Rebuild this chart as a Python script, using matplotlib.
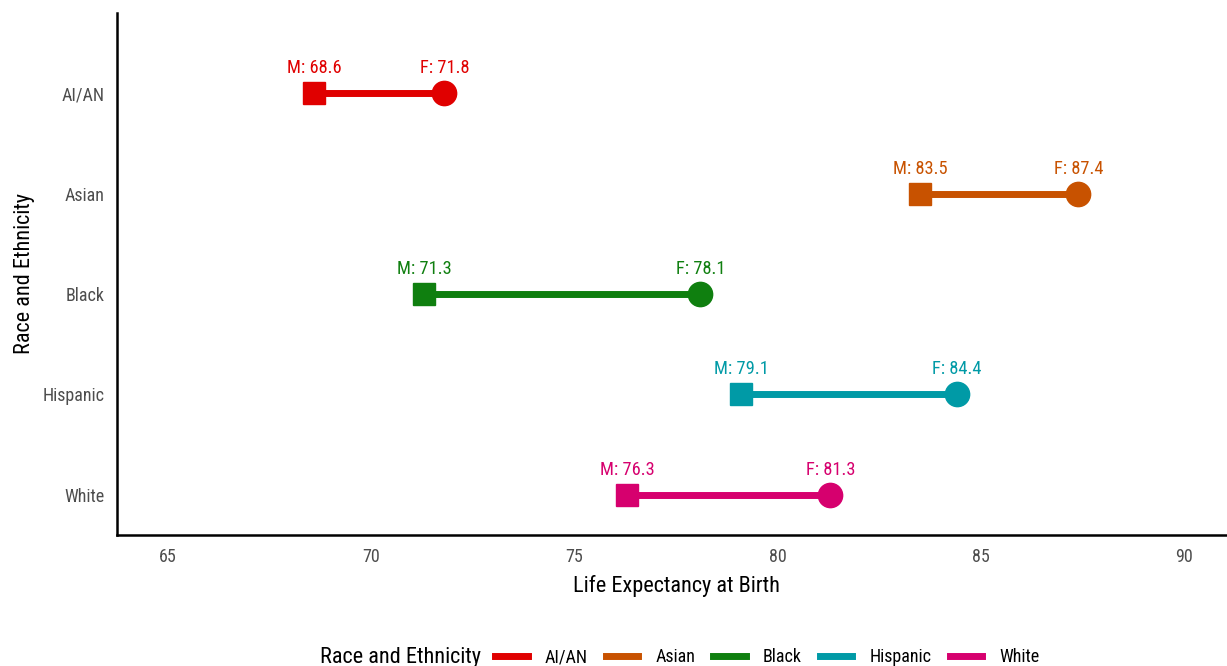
import matplotlib
matplotlib.use("Agg")
import matplotlib.pyplot as plt
from matplotlib.lines import Line2D

# Datos
groups = ["AI/AN", "Asian", "Black", "Hispanic", "White"]
male = [68.6, 83.5, 71.3, 79.1, 76.3]
female = [71.8, 87.4, 78.1, 84.4, 81.3]
colors = ["#E00000", "#C85200", "#0F7F0F", "#009AA6", "#D6006E"]
xticks = [65, 70, 75, 80, 85, 90]

plt.rcParams["font.family"] = ["Roboto Condensed", "Liberation Sans Narrow", "DejaVu Sans"]
plt.rcParams["font.stretch"] = "condensed"

fig = plt.figure(figsize=(12.27, 6.66), dpi=100)
ax = fig.add_axes([117 / 1227, 1 - 535 / 666, (1235 - 117) / 1227, (535 - 13) / 666])

n = len(groups)
ypos = [n - 1 - i for i in range(n)]

for y, m, f, c in zip(ypos, male, female, colors):
    ax.plot([m, f], [y, y], color=c, lw=5, solid_capstyle="butt", zorder=2)
    ax.plot(m, y, marker="s", color=c, ms=16, ls="none", zorder=3)
    ax.plot(f, y, marker="o", color=c, ms=17.5, ls="none", zorder=3)
    ax.text(m, y + 0.16, f"M: {m}", color=c, ha="center", va="bottom", fontsize=13.3)
    ax.text(f, y + 0.16, f"F: {f}", color=c, ha="center", va="bottom", fontsize=13.3)

ax.set_xlim(63.75, 91.25)
ax.set_ylim(-0.4, 4.8)
ax.set_xticks(xticks)
ax.set_yticks(ypos)
ax.set_yticklabels(groups)
ax.tick_params(length=0, labelsize=13, labelcolor="#4D4D4D", pad=9)
for s in ["top", "right"]:
    ax.spines[s].set_visible(False)
for s in ["left", "bottom"]:
    ax.spines[s].set_linewidth(1.8)
ax.set_xlabel("Life Expectancy at Birth", fontsize=16, labelpad=7)
ax.set_ylabel("Race and Ethnicity", fontsize=16)
ax.yaxis.set_label_coords(-(117 - 35) / 1118, 0.5)

# Leyenda abajo, titulo a la izquierda
fig.text(481 / 1227, 1 - 657 / 666, "Race and Ethnicity", fontsize=16,
         ha="right", va="center")
handles = [Line2D([0], [0], color=c, lw=5) for c in colors]
fig.legend(handles, groups, loc="center left",
           bbox_to_anchor=(495 / 1227, 1 - 657 / 666), ncol=5, frameon=False,
           fontsize=13, handlelength=1.8, borderpad=0, borderaxespad=0,
           columnspacing=1.0, handletextpad=0.95)

fig.savefig("out.png", dpi=100)
